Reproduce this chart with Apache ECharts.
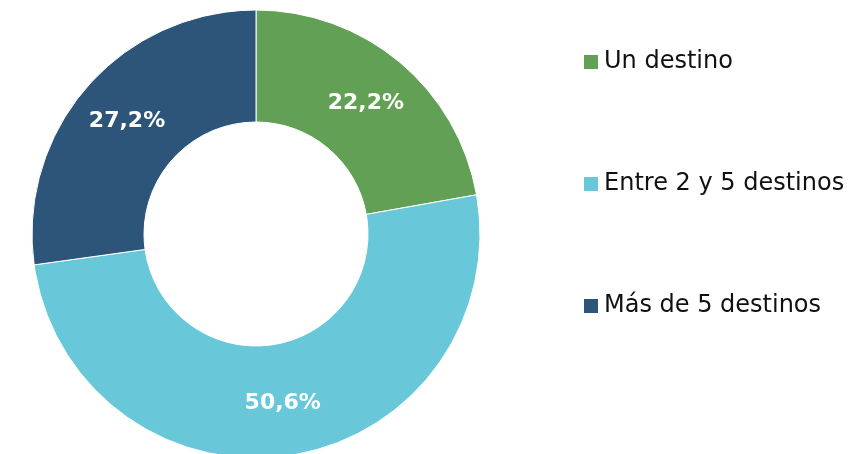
<!DOCTYPE html>
<html>
<head>
<meta charset="utf-8">
<script src="https://cdn.jsdelivr.net/npm/echarts@6/dist/echarts.min.js"></script>
<style>
  html, body { margin: 0; padding: 0; background: #fff; }
  #chart { width: 849px; height: 454px; }
</style>
</head>
<body>
<div id="chart"></div>
<script type="text/javascript">
    var categories = ['Un destino', 'Entre 2 y 5 destinos', 'Más de 5 destinos'];
    var values = [22.2, 50.6, 27.2];
    var colors = ['#62a055', '#68c8da', '#2d5479'];

    var myChart = echarts.init(document.getElementById('chart'));
    var option = {
        animation: false,
        color: colors,
        legend: {
            orient: 'vertical',
            left: 579,
            top: 45,
            padding: 5,
            itemWidth: 14,
            itemHeight: 14,
            itemGap: 98,
            icon: 'rect',
            itemStyle: { borderWidth: 0 },
            data: categories,
            textStyle: {
                fontFamily: 'DejaVu Sans',
                fontSize: 24,
                lineHeight: 24,
                padding: [0, 0, 0, 1],
                color: '#111'
            }
        },
        series: [
            {
                type: 'pie',
                center: [256, 234],
                radius: [112, 224],
                startAngle: 90,
                clockwise: true,
                itemStyle: {
                    borderColor: '#fff',
                    borderWidth: 1
                },
                label: {
                    position: 'inside',
                    color: '#fff',
                    fontFamily: 'DejaVu Sans',
                    fontWeight: 'bold',
                    fontSize: 22,
                    formatter: function (p) {
                        return p.value.toFixed(1).replace('.', ',') + '%';
                    }
                },
                labelLine: { show: false },
                emphasis: { disabled: true },
                data: categories.map(function (c, i) {
                    return { name: c, value: values[i] };
                })
            }
        ]
    };
    myChart.setOption(option);
</script>
</body>
</html>
